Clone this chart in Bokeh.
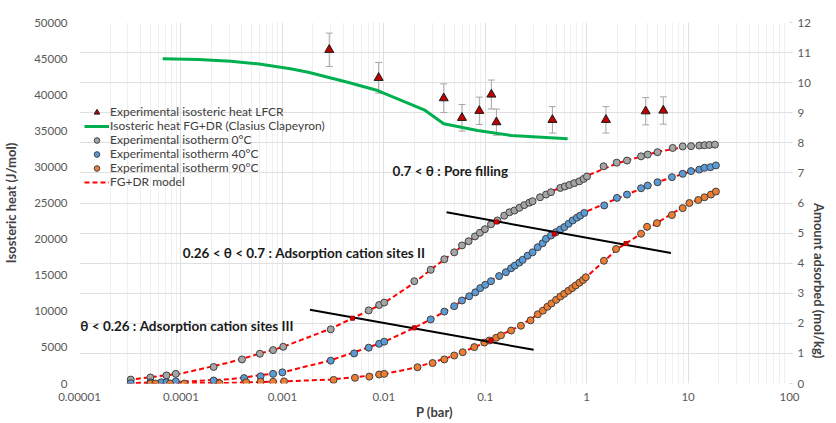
import math
from bokeh.plotting import figure
from bokeh.models import (Range1d, LinearAxis, FixedTicker, CustomJSTickFormatter, Legend,
                          LegendItem, Whisker, TeeHead, ColumnDataSource)
from bokeh.core.properties import value
from bokeh.embed import file_html
from bokeh.resources import INLINE

# ---------------- data ----------------
# Experimental isosteric heat LFCR (P in bar, heat in J/mol, error)
heat_p = [0.0029, 0.0089, 0.039, 0.059, 0.0875, 0.115, 0.129, 0.46, 1.55, 3.82, 5.7]
heat_val = [46220, 42340, 39520, 36800, 37770, 40030, 36200, 36520, 36520, 37710, 37810]
heat_err = [2310, 2120, 1980, 1840, 1890, 2000, 1810, 1830, 1830, 1890, 1890]

# Isosteric heat FG+DR (Clausius Clapeyron)
cc_p = [6.6e-5, 1.5e-4, 3.1e-4, 5.7e-4, 1.2e-3, 1.8e-3, 4.4e-3, 8.7e-3, 0.025, 0.039, 0.084, 0.18, 0.65]
cc_heat = [44970, 44880, 44640, 44280, 43590, 43120, 41730, 40580, 37910, 35970, 35040, 34350, 33890]

# Experimental isotherm 0 C
t0_p = [3.2e-5, 5.0e-5, 7.2e-5, 8.9e-5, 2.1e-4, 4.0e-4, 6.0e-4, 8.1e-4, 1.02e-3, 3.0e-3,
        7.1e-3, 9.0e-3, 0.0101, 0.020, 0.029, 0.0395, 0.0495, 0.059, 0.0686, 0.0793,
        0.0887, 0.0993, 0.114, 0.132, 0.154, 0.173, 0.194, 0.217, 0.243, 0.272,
        0.293, 0.347, 0.398, 0.445, 0.55, 0.61, 0.676, 0.755, 0.847, 0.933,
        1.007, 1.47, 1.98, 2.5, 3.44, 4.0, 5.0, 7.05, 8.85, 10.7, 12.9, 14.5, 16.2, 18.4]
t0_q = [0.13, 0.20, 0.27, 0.32, 0.55, 0.80, 0.99, 1.11, 1.22, 1.80,
        2.43, 2.61, 2.69, 3.40, 3.78, 4.13, 4.36, 4.59, 4.73, 4.89,
        5.01, 5.13, 5.29, 5.42, 5.58, 5.69, 5.75, 5.84, 5.93, 6.01,
        6.06, 6.19, 6.28, 6.36, 6.50, 6.55, 6.60, 6.66, 6.72, 6.80,
        6.88, 7.22, 7.34, 7.41, 7.55, 7.61, 7.69, 7.83, 7.88, 7.89, 7.91, 7.92, 7.93, 7.94]

# Experimental isotherm 40 C
t40_p = [3.2e-5, 5.0e-5, 6.4e-5, 7.2e-5, 8.9e-5, 2.1e-4, 4.2e-4, 6.1e-4, 8.1e-4, 1.0e-3,
         3.0e-3, 5.1e-3, 7.1e-3, 9.0e-3, 0.0101, 0.029, 0.0395, 0.0495, 0.059, 0.0695,
         0.0798, 0.0893, 0.1, 0.114, 0.137, 0.16, 0.18, 0.196, 0.217, 0.234,
         0.262, 0.293, 0.329, 0.368, 0.397, 0.445, 0.498, 0.55, 0.603, 0.664,
         0.728, 0.80, 0.865, 0.948, 1.49, 1.99, 2.5, 3.44, 4.0, 5.0,
         6.93, 8.85, 10.7, 12.9, 14.5, 16.6, 18.8]
t40_q = [0.01, 0.04, 0.04, 0.04, 0.07, 0.10, 0.18, 0.24, 0.32, 0.37,
         0.76, 1.00, 1.19, 1.32, 1.39, 2.13, 2.39, 2.57, 2.76, 2.90,
         3.03, 3.17, 3.28, 3.40, 3.57, 3.70, 3.83, 3.92, 4.02, 4.11,
         4.25, 4.36, 4.53, 4.66, 4.81, 4.92, 5.03, 5.12, 5.20, 5.31,
         5.42, 5.51, 5.58, 5.67, 5.92, 6.17, 6.28, 6.49, 6.58, 6.69,
         6.86, 6.97, 7.06, 7.11, 7.17, 7.19, 7.25]

# Experimental isotherm 90 C
t90_p = [5.0e-5, 5.6e-5, 7.8e-5, 1.08e-4, 2.4e-4, 4.4e-4, 6.1e-4, 8.1e-4, 1.04e-3, 3.2e-3,
         5.2e-3, 7.2e-3, 9.0e-3, 0.0101, 0.0215, 0.0303, 0.0395, 0.0495, 0.06, 0.078,
         0.098, 0.11, 0.128, 0.143, 0.18, 0.225, 0.28, 0.33, 0.37, 0.41,
         0.45, 0.5, 0.55, 0.6, 0.66, 0.72, 0.78, 0.85, 0.92, 0.98,
         1.48, 1.95, 3.44, 3.94, 4.93, 6.93, 8.85, 10.3, 12.6, 14.5, 16.8, 18.8]
t90_q = [0.0, 0.0, 0.0, 0.0, 0.01, 0.04, 0.06, 0.06, 0.07, 0.12,
         0.19, 0.23, 0.30, 0.32, 0.54, 0.68, 0.80, 0.93, 1.04, 1.21,
         1.36, 1.43, 1.52, 1.60, 1.76, 1.92, 2.10, 2.30, 2.42, 2.55,
         2.66, 2.78, 2.89, 2.98, 3.08, 3.17, 3.26, 3.35, 3.44, 3.53,
         4.08, 4.47, 4.98, 5.21, 5.33, 5.60, 5.83, 6.00, 6.10, 6.19, 6.28, 6.38]

# FG+DR model curves
m0_p = [3e-5, 1e-4, 3e-4, 1e-3, 3e-3, 0.01, 0.02, 0.03, 0.05, 0.1, 0.2, 0.3, 0.5, 1.0, 2, 5, 10, 20]
m0_q = [0.12, 0.33, 0.70, 1.21, 1.82, 2.67, 3.35, 3.82, 4.38, 5.13, 5.78, 6.08, 6.45, 6.90, 7.32, 7.70, 7.88, 7.96]
m40_p = [3e-5, 1e-4, 3e-4, 1e-3, 3e-3, 0.01, 0.02, 0.03, 0.05, 0.1, 0.2, 0.3, 0.5, 1.0, 2, 5, 10, 20]
m40_q = [0.01, 0.06, 0.14, 0.37, 0.77, 1.38, 1.85, 2.16, 2.58, 3.30, 3.95, 4.37, 5.00, 5.72, 6.15, 6.70, 7.02, 7.27]
m90_p = [3e-5, 1e-4, 3e-4, 1e-3, 3e-3, 0.01, 0.02, 0.05, 0.1, 0.2, 0.3, 0.5, 1.0, 1.5, 2, 3, 5, 10, 20]
m90_q = [0.0, 0.01, 0.02, 0.07, 0.13, 0.31, 0.52, 0.93, 1.36, 1.85, 2.20, 2.78, 3.55, 4.08, 4.47, 4.85, 5.35, 5.97, 6.42]

# theta boundary lines
b1_p = [1.87e-3, 0.30]
b1_q = [2.45, 1.12]
b2_p = [0.0416, 6.78]
b2_q = [5.69, 4.34]
cross_p = [0.0049, 0.020, 0.114, 0.129, 0.48, 2.44]
cross_q = [2.17, 1.85, 1.43, 5.37, 4.97, 4.65]

# annotations
ann_text = ["0.7 < \u03b8  : Pore filling",
            "0.26 < \u03b8 < 0.7 : Adsorption cation sites II",
            "\u03b8 < 0.26 : Adsorption cation sites III"]
ann_p = [0.0122, 1.04e-4, 1.02e-5]
ann_q = [7.06, 4.33, 1.905]

legend_labels = ["Experimental isosteric heat LFCR",
                 "Isosteric heat FG+DR (Clasius Clapeyron)",
                 "Experimental isotherm 0\u00b0C",
                 "Experimental isotherm 40\u00b0C",
                 "Experimental isotherm 90\u00b0C",
                 "FG+DR model"]

x_ticks = [1e-5, 1e-4, 1e-3, 1e-2, 1e-1, 1, 10, 100]
heat_ticks = list(range(0, 50001, 5000))
q_ticks = list(range(0, 13))

FONT = "Lato"

# ---------------- figure ----------------
p = figure(frame_width=710, frame_height=361, x_axis_type="log", x_range=Range1d(1e-5, 100),
           y_range=Range1d(0, 12), y_axis_location="right",
           output_backend="svg", toolbar_location=None,
           min_border_left=74, min_border_right=44, min_border_top=22, min_border_bottom=38)
p.outline_line_color = None
p.background_fill_color = "white"
p.extra_y_ranges = {"heat": Range1d(0, 50000)}

left = LinearAxis(y_range_name="heat", axis_label="Isosteric heat (J/mol)")
p.add_layout(left, "left")
right = p.right[0]
bottom = p.below[0]

minor = [m * 10.0 ** k for k in range(-5, 2) for m in range(2, 10)]
bottom.ticker = FixedTicker(ticks=x_ticks, minor_ticks=minor)
bottom.formatter = CustomJSTickFormatter(
    code="return tick >= 1 ? tick.toFixed(0) : tick.toFixed(Math.round(-Math.log10(tick)));")
bottom.axis_label = "P (bar)"
right.ticker = FixedTicker(ticks=q_ticks)
right.axis_label = "Amount adsorbed (mol/kg)"
left.ticker = FixedTicker(ticks=heat_ticks)

for ax in [bottom, right, left]:
    ax.axis_line_color = None
    ax.major_tick_line_color = None
    ax.minor_tick_line_color = None
    ax.major_tick_out = 0
    ax.major_tick_in = 0
    ax.minor_tick_out = 0
    ax.minor_tick_in = 0
    ax.major_label_text_font = FONT
    ax.major_label_text_font_size = "11.5px"
    ax.major_label_text_color = "#595959"
    ax.axis_label_text_font = FONT
    ax.axis_label_text_font_size = "13px"
    ax.axis_label_text_font_style = "bold"
    ax.axis_label_text_color = "#404040"

bottom.major_label_standoff = 9
bottom.axis_label_standoff = 0
left.major_label_standoff = 12
left.axis_label_standoff = 12
right.major_tick_line_color = "#d9d9d9"
right.major_tick_out = 3
right.major_label_standoff = 5
right.axis_label_standoff = 5
right.axis_label_orientation = -math.pi / 2

p.xgrid.grid_line_color = "#e0e0e0"
p.xgrid.minor_grid_line_color = "#f0f0f0"
p.ygrid.grid_line_color = "#e0e0e0"

# green Clausius-Clapeyron line
g_line = p.line(cc_p, cc_heat, y_range_name="heat", line_color="#00b050", line_width=3)

# error bars
err_src = ColumnDataSource(dict(x=heat_p, upper=[v + e for v, e in zip(heat_val, heat_err)],
                                lower=[v - e for v, e in zip(heat_val, heat_err)]))
wh = Whisker(base="x", upper="upper", lower="lower", source=err_src, dimension="height",
             y_range_name="heat", line_color="#a6a6a6", line_width=1,
             upper_head=TeeHead(size=7, line_color="#a6a6a6", line_width=1),
             lower_head=TeeHead(size=7, line_color="#a6a6a6", line_width=1))
p.add_layout(wh)
tri = p.scatter(heat_p, heat_val, y_range_name="heat", marker="triangle", size=9,
                fill_color="#c00000", line_color="#1a1a1a", line_width=1)

# model curves
dash = dict(line_color="#ff0000", line_width=2, line_dash="5 3")
m_line = p.line(m0_p, m0_q, **dash)
p.line(m40_p, m40_q, **dash)
p.line(m90_p, m90_q, **dash)

mk = dict(size=7, line_color="#404040", line_width=1)
s0 = p.scatter(t0_p, t0_q, fill_color="#a5a5a5", **mk)
s40 = p.scatter(t40_p, t40_q, fill_color="#5b9bd5", **mk)
s90 = p.scatter(t90_p, t90_q, fill_color="#ed7d31", **mk)

# theta boundaries
p.line(b1_p, b1_q, line_color="black", line_width=2)
p.line(b2_p, b2_q, line_color="black", line_width=2)
p.scatter(cross_p, cross_q, marker="square", size=4, fill_color="#e00000", line_color="#a00000")

# annotations
p.text(ann_p, ann_q, text=ann_text, text_font=value(FONT), text_font_size="13.5px",
       text_font_style="bold", text_color="#1a1a1a", text_align="left", text_baseline="middle")

# legend: one row per Legend so that rows are 14 px apart
leg_renderers = [tri, g_line, s0, s40, s90, m_line]
for i, (lab, r) in enumerate(zip(legend_labels, leg_renderers)):
    lg = Legend(items=[LegendItem(label=lab, renderers=[r])], location=(5, 264 - 14 * i),
                glyph_width=25, glyph_height=14, label_height=14, spacing=0,
                padding=0, margin=0, label_standoff=1, border_line_color=None,
                background_fill_alpha=0, label_text_font=FONT,
                label_text_font_size="12px", label_text_color="#404040")
    p.add_layout(lg)

open("out.html", "w").write(file_html(p, INLINE))
